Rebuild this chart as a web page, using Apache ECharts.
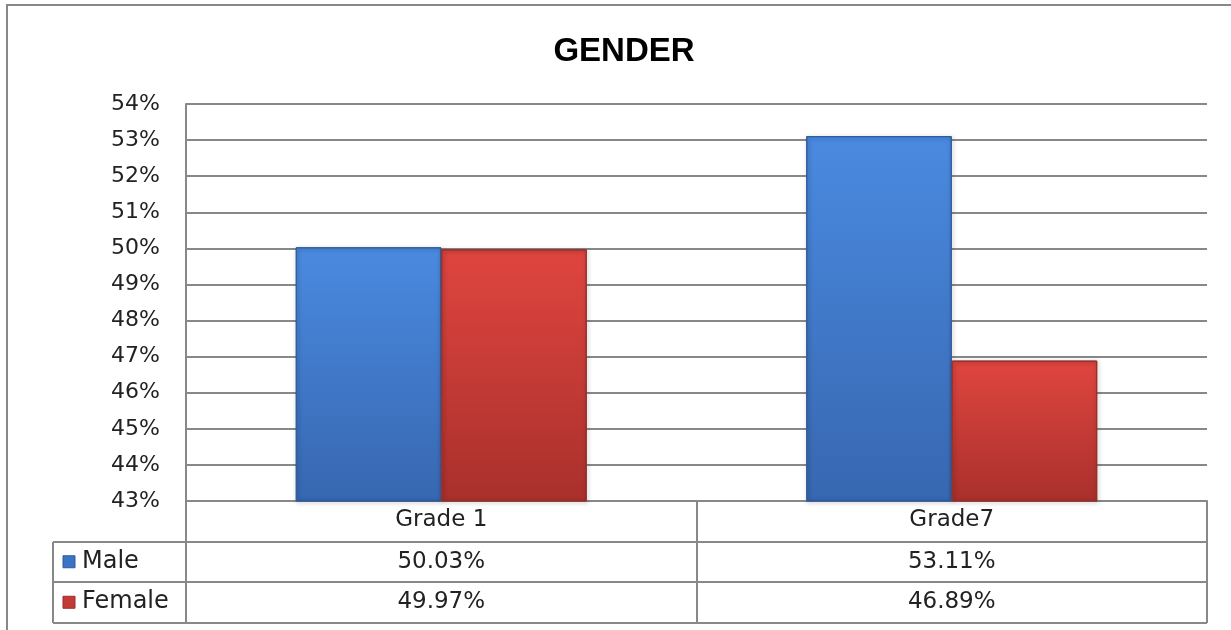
<!DOCTYPE html>
<html>
<head>
<meta charset="utf-8">
<script src="https://cdn.jsdelivr.net/npm/echarts@6/dist/echarts.min.js"></script>
<style>
  html, body { margin: 0; padding: 0; background: #fff; }
  #main { width: 1231px; height: 630px; }
</style>
</head>
<body>
<div id="main"></div>
<script>
// data
var categories = ['Grade 1', 'Grade7'];
var seriesNames = ['Male', 'Female'];
var maleValues = [50.03, 53.11];
var femaleValues = [49.97, 46.89];
var yTicks = [43, 44, 45, 46, 47, 48, 49, 50, 51, 52, 53, 54];

var W = 1231, H = 630;
var gridLeft = 186, gridRight = 24, gridTop = 104, gridBottom = 129;
var rowH = 40.5;
var tableLeft = 53;
var lineColor = '#888888';
var font = 'DejaVu Sans';

function grad(top, bottom) {
    return new echarts.graphic.LinearGradient(0, 0, 0, 1, [
        {offset: 0, color: top},
        {offset: 1, color: bottom}
    ]);
}
var colors = [
    {fill: grad('#4a8ae0', '#3767b0'), border: '#2f5b9c', key: '#3b74c4'},
    {fill: grad('#e0453f', '#a9302c'), border: '#93302c', key: '#c53a36'}
];

var myChart = echarts.init(document.getElementById('main'));

var option = {
    animation: false,
    backgroundColor: '#fff',
    title: {
        text: 'GENDER',
        left: 619,
        textAlign: 'center',
        top: 30,
        textStyle: {fontFamily: 'Liberation Sans', fontWeight: 'bold', fontSize: 33, color: '#000'}
    },
    grid: {left: gridLeft, right: gridRight, top: gridTop, bottom: gridBottom},
    xAxis: {
        type: 'category',
        data: categories,
        axisLine: {lineStyle: {color: lineColor, width: 2}},
        axisTick: {show: false},
        axisLabel: {fontFamily: font, fontSize: 23, color: '#222', margin: 8}
    },
    yAxis: {
        type: 'value',
        min: yTicks[0],
        max: yTicks[yTicks.length - 1],
        interval: 1,
        axisLine: {show: true, lineStyle: {color: lineColor, width: 2}},
        axisTick: {show: false},
        axisLabel: {formatter: '{value}%', fontFamily: font, fontSize: 22, color: '#222', margin: 26},
        splitLine: {lineStyle: {color: lineColor, width: 2}}
    },
    series: [
        {
            name: seriesNames[0],
            type: 'bar',
            data: maleValues,
            barGap: 0,
            barCategoryGap: '43%',
            itemStyle: {
                color: colors[0].fill, borderColor: colors[0].border, borderWidth: 1,
                shadowBlur: 4, shadowColor: 'rgba(0,0,0,0.35)', shadowOffsetX: 1, shadowOffsetY: 1
            }
        },
        {
            name: seriesNames[1],
            type: 'bar',
            data: femaleValues,
            itemStyle: {
                color: colors[1].fill, borderColor: colors[1].border, borderWidth: 1,
                shadowBlur: 4, shadowColor: 'rgba(0,0,0,0.35)', shadowOffsetX: 1, shadowOffsetY: 1
            }
        }
    ]
};
myChart.setOption(option);

// data table under the plot
var L = gridLeft, R = W - gridRight, y0 = H - gridBottom;
var els = [];
// outer chart border (runs off the right and bottom edges)
els.push({type: 'rect', shape: {x: 7, y: 5, width: W * 2, height: H * 2}, style: {fill: null, stroke: lineColor, lineWidth: 2}, z: 1});
// horizontal lines
for (var r = 1; r <= 3; r++) {
    var yy = Math.round(y0 + r * rowH);
    els.push({type: 'line', shape: {x1: tableLeft, y1: yy, x2: R, y2: yy}, style: {stroke: lineColor, lineWidth: 2}});
}
// vertical lines
var n = categories.length;
for (var c = 0; c <= n; c++) {
    var xx = Math.round(L + c * (R - L) / n);
    els.push({type: 'line', shape: {x1: xx, y1: y0, x2: xx, y2: Math.round(y0 + 3 * rowH)}, style: {stroke: lineColor, lineWidth: 2}});
}
els.push({type: 'line', shape: {x1: tableLeft, y1: Math.round(y0 + rowH), x2: tableLeft, y2: Math.round(y0 + 3 * rowH)}, style: {stroke: lineColor, lineWidth: 2}});

var rows = [maleValues, femaleValues];
rows.forEach(function (vals, i) {
    var cy = y0 + (i + 1.5) * rowH;
    els.push({type: 'rect', shape: {x: tableLeft + 10, y: cy - 6, width: 12, height: 12}, style: {fill: colors[i].key, stroke: colors[i].border, lineWidth: 1}});
    els.push({type: 'text', x: tableLeft + 29, y: cy, style: {text: seriesNames[i], fontFamily: font, fontSize: 24, fill: '#222', verticalAlign: 'middle', align: 'left'}});
    vals.forEach(function (v, j) {
        var px = myChart.convertToPixel({xAxisIndex: 0}, categories[j]);
        els.push({type: 'text', x: px, y: cy, style: {text: v.toFixed(2) + '%', fontFamily: font, fontSize: 23, fill: '#222', verticalAlign: 'middle', align: 'center'}});
    });
});
myChart.setOption({graphic: {elements: els}});
</script>
</body>
</html>
